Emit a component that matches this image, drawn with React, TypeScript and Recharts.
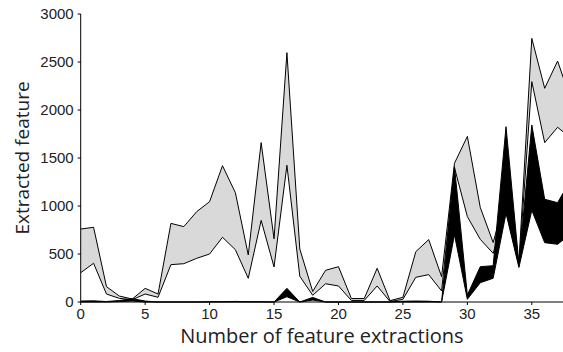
import React from 'react';
import { ComposedChart, Area, XAxis, YAxis } from 'recharts';

const steps = [0, 1, 2, 3, 4, 5, 6, 7, 8, 9, 10, 11, 12, 13, 14, 15, 16, 17, 18, 19, 20, 21, 22, 23, 24, 25, 26, 27, 28, 29, 30, 31, 32, 33, 34, 35, 36, 37, 38];

const grayHigh = [760, 778, 160, 62, 31, 142, 83, 819, 785, 941, 1045, 1420, 1139, 490, 1660, 658, 2597, 552, 110, 330, 368, 36, 36, 351, 14, 49, 524, 650, 264, 1445, 1725, 986, 620, 1100, 420, 2746, 2226, 2510, 2120];
const grayLow = [305, 403, 83, 38, 24, 83, 49, 389, 399, 455, 500, 674, 545, 247, 850, 365, 1424, 268, 70, 190, 167, 16, 16, 167, 5, 28, 257, 285, 115, 1400, 889, 653, 507, 950, 380, 2295, 1660, 1820, 1710];
const blackHigh = [10, 12, 5, 15, 35, 10, 0, 0, 0, 0, 3, 3, 6, 3, 3, 0, 142, 0, 48, 0, 0, 0, 0, 0, 0, 8, 10, 8, 0, 1410, 73, 368, 378, 1826, 400, 1844, 1070, 1035, 1266];
const blackLow = [0, 0, 0, 5, 10, 0, 0, 0, 0, 0, 0, 0, 0, 0, 0, 0, 55, 0, 20, 0, 0, 0, 0, 0, 0, 0, 0, 0, 0, 700, 28, 201, 247, 924, 360, 955, 618, 601, 708];

const xTicks = [0, 5, 10, 15, 20, 25, 30, 35];
const yTicks = [0, 500, 1000, 1500, 2000, 2500, 3000];

const xTitle = 'Number of feature extractions';
const yTitle = 'Extracted feature';

const data = steps.map((x, i) => ({
  x,
  gray: [grayLow[i], grayHigh[i]],
  black: [blackLow[i], blackHigh[i]],
}));

const titleFont = "'Open Sans', 'Noto Sans', sans-serif";
const tickFont = "'Liberation Sans', Arial, sans-serif";

const XTitle = (props: any) => {
  const vb = props.viewBox || {};
  return (
    <text x={vb.x + vb.width / 2} y={vb.y + 41} textAnchor="middle" fontFamily={titleFont} fontSize={20} fill="#222">
      {xTitle}
    </text>
  );
};

const YTitle = (props: any) => {
  const vb = props.viewBox || {};
  const cx = vb.x + 29;
  const cy = vb.y + vb.height / 2;
  return (
    <text x={cx} y={cy} transform={`rotate(-90, ${cx}, ${cy})`} textAnchor="middle" fontFamily={titleFont} fontSize={19} fill="#222">
      {yTitle}
    </text>
  );
};

export default function App() {
  return (
    <div style={{ position: 'absolute', left: 0, top: 0, width: 563, height: 352, background: '#fff' }}>
      <ComposedChart width={563} height={352} data={data} margin={{ top: 14, right: 0, bottom: 0, left: 0 }}>
        <XAxis
          dataKey="x"
          type="number"
          domain={[0, 37.42]}
          allowDataOverflow
          ticks={xTicks}
          height={50}
          tickSize={3}
          tickMargin={3}
          stroke="#000"
          tick={{ fill: '#222', fontSize: 15, fontFamily: tickFont }}
          label={<XTitle />}
        />
        <YAxis
          type="number"
          domain={[0, 3000]}
          ticks={yTicks}
          width={80.7}
          tickSize={3}
          tickMargin={4}
          stroke="#000"
          tick={{ fill: '#222', fontSize: 15, fontFamily: tickFont }}
          label={<YTitle />}
        />
        <Area
          type="linear"
          dataKey="gray"
          fill="#d9d9d9"
          fillOpacity={1}
          stroke="#000"
          strokeWidth={1}
          isAnimationActive={false}
          dot={false}
          activeDot={false}
        />
        <Area
          type="linear"
          dataKey="black"
          fill="#000"
          fillOpacity={1}
          stroke="#000"
          strokeWidth={1}
          isAnimationActive={false}
          dot={false}
          activeDot={false}
        />
      </ComposedChart>
    </div>
  );
}
